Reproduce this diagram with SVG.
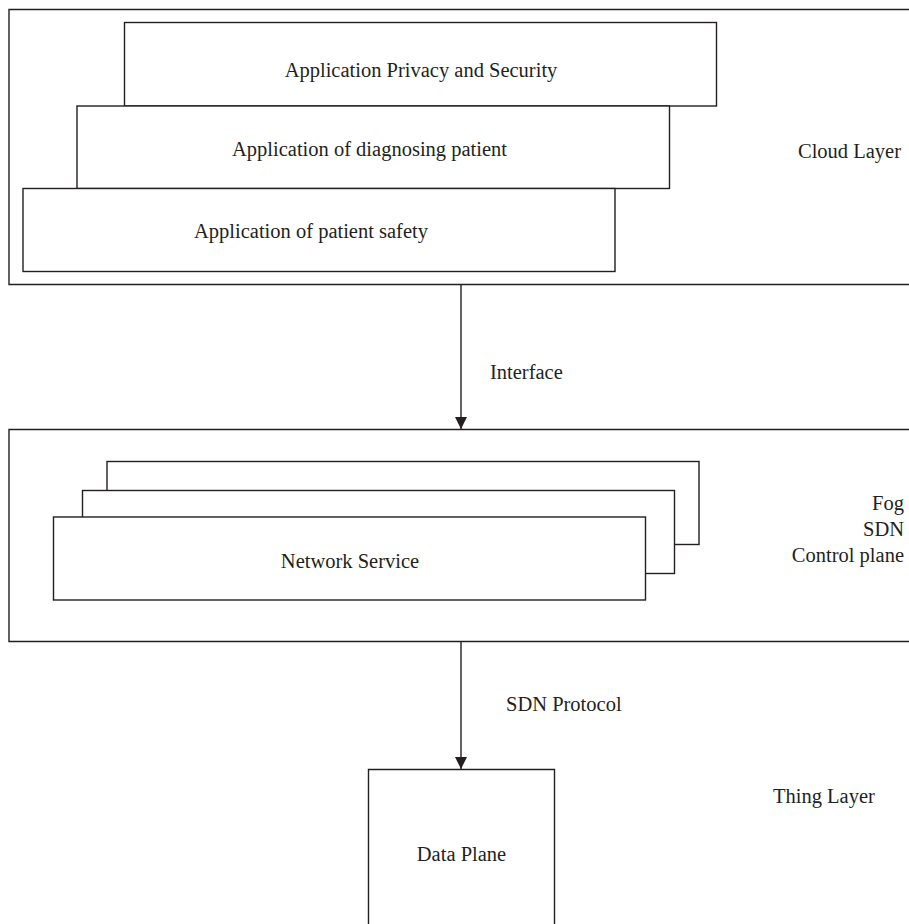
<svg xmlns="http://www.w3.org/2000/svg" width="909" height="924" viewBox="0 0 909 924">
<defs>
<style>
.box{fill:#fff;stroke:#231f20;stroke-width:1.4}
.open{fill:none;stroke:#231f20;stroke-width:1.4}
.t{font-family:"Liberation Serif","Times New Roman",serif;font-size:20.5px;fill:#231f20}
.c{text-anchor:middle}
.r{text-anchor:end}
.conn{stroke:#231f20;stroke-width:1.4;fill:none}
</style>
<marker id="arr" viewBox="0 0 12 12" refX="12" refY="6" markerWidth="12" markerHeight="12" markerUnits="userSpaceOnUse" orient="auto">
<path d="M0,0 L12,6 L0,12 Z" fill="#231f20"/>
</marker>
</defs>
<rect width="909" height="924" fill="#fff"/>
<g id="cloud-layer">
<path class="open" d="M911,9.5 H9 V284.5 H911"/>
<text class="t" x="798" y="158">Cloud Layer</text>
</g>
<g id="app-privacy">
<rect class="box" x="124.5" y="22.5" width="592" height="83.5"/>
<text class="t c" x="421" y="77">Application Privacy and Security</text>
</g>
<g id="app-diagnosing">
<rect class="box" x="77" y="106" width="592.5" height="82.5"/>
<text class="t c" x="369.5" y="156">Application of diagnosing patient</text>
</g>
<g id="app-safety">
<rect class="box" x="23" y="188.5" width="592" height="83"/>
<text class="t c" x="311" y="238">Application of patient safety</text>
</g>
<g id="fog-layer">
<path class="open" d="M911,429.5 H9 V641.5 H911"/>
<text class="t r" x="904" y="510">Fog</text>
<text class="t r" x="904" y="536">SDN</text>
<text class="t r" x="904" y="562">Control plane</text>
</g>
<g id="network-service">
<rect class="box" x="107" y="461.5" width="592" height="83"/>
<rect class="box" x="82.5" y="490.5" width="592" height="83"/>
<rect class="box" x="53.5" y="517" width="592" height="83"/>
<text class="t c" x="350" y="568">Network Service</text>
</g>
<g id="data-plane">
<path class="open" d="M368.5,930 V769.5 H554.5 V930"/>
<text class="t c" x="461.5" y="861">Data Plane</text>
</g>
<g id="thing-layer">
<text class="t" x="773" y="803">Thing Layer</text>
</g>
<g id="connectors">
<line class="conn" x1="461" y1="285" x2="461" y2="429" marker-end="url(#arr)"/>
<text class="t" x="490" y="379">Interface</text>
<line class="conn" x1="461" y1="642" x2="461" y2="769" marker-end="url(#arr)"/>
<text class="t" x="506" y="711">SDN Protocol</text>
</g>
</svg>
